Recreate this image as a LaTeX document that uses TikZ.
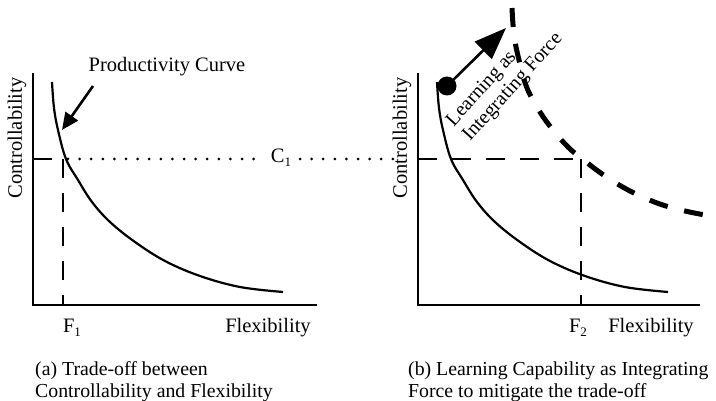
\documentclass[tikz,border=0pt]{standalone}
\usepackage{fontspec}
\setmainfont{Liberation Serif}
\usetikzlibrary{arrows.meta}
% small lowered index for F1, F2, C1
\newcommand{\lowidx}[1]{\raisebox{-0.45ex}{\fontsize{13}{13}\selectfont#1}}
\begin{document}
\begin{tikzpicture}[x=1pt,y=-1pt,
  lbl/.style={font=\fontsize{20.5}{22}\selectfont, inner sep=0pt},
  caption/.style={font=\fontsize{19.8}{22}\selectfont, inner sep=0pt, align=left, anchor=west},
  axis/.style={line width=2.6pt},
  curve/.style={line width=2.2pt},
  guide/.style={line width=2pt, dash pattern=on 19pt off 15pt},
  dots/.style={line width=3pt, line cap=round, dash pattern=on 0pt off 11.6pt},
  shifted/.style={line width=5pt, dash pattern=on 19pt off 17pt},
  pointer/.style={line width=2.6pt, -{Triangle[length=17pt,width=15pt]}},
  learn/.style={line width=2.6pt, -{Triangle[length=32pt,width=24pt]}},
]
\useasboundingbox (0,0) rectangle (716,401);

% ---------- panel (a) ----------
\coordinate (ytopA) at (33,73);
\coordinate (oA) at (33,305);
\coordinate (xendA) at (317,305);
\draw[axis] (ytopA) -- (oA) -- (xendA);

\draw[curve] plot[smooth, tension=0.6] coordinates {
  (52,82) (54,108) (58,130) (66,159) (78,180) (92,202) (110,222)
  (135,242) (165,261) (200,276) (240,287) (283,292)};

\coordinate (cA) at (33,159);
\coordinate (pA) at (63,159);
\coordinate (fA) at (63,305);
\draw[guide] (cA) -- (pA);
\draw[guide] (pA) -- (fA);

\node[lbl] (C1) at (281,158) {C\lowidx{1}};
\coordinate (dotsA1) at (68,159);
\coordinate (dotsA2) at (257,159);
\coordinate (dotsB1) at (300,159);
\coordinate (dotsB2) at (393,159);
\draw[dots] (dotsA1) -- (dotsA2);
\draw[dots] (dotsB1) -- (dotsB2);

\node[lbl] (pc) at (167,67) {Productivity Curve};
\coordinate (pcFrom) at (93,86);
\coordinate (pcTo) at (62,130);
\draw[pointer] (pcFrom) -- (pcTo);

\node[lbl, rotate=90] (ylA) at (17,138) {Controllability};
\node[lbl] (F1) at (72,328) {F\lowidx{1}};
\node[lbl] (xlA) at (268,328) {Flexibility};
\node[caption] (capA) at (35,382)
  {(a) Trade-off between\\Controllability and Flexibility};

% ---------- panel (b) ----------
\begin{scope}[shift={(385,0)}]
  \coordinate (ytopB) at (33,73);
  \coordinate (oB) at (33,305);
  \coordinate (xendB) at (315,305);
  \draw[axis] (ytopB) -- (oB) -- (xendB);
  \draw[curve] plot[smooth, tension=0.6] coordinates {
    (52,82) (54,108) (58,130) (66,159) (78,180) (92,202) (110,222)
    (135,242) (165,261) (200,276) (240,287) (283,292)};
\end{scope}

\coordinate (cB) at (418,159);
\coordinate (pB) at (581,159);
\coordinate (fB) at (581,305);
\draw[guide] (cB) -- (pB);
\draw[guide] (pB) -- (fB);

\draw[shifted] plot[smooth, tension=0.6] coordinates {
  (512,8) (514,35) (519,60) (527,88) (540,112) (553,130) (568,147)
  (581,158) (605,176) (630,191) (657,203) (685,211) (716,217)};

\node[circle, fill, inner sep=0pt, minimum size=19pt] (ball) at (447,86) {};
\coordinate (lrnTo) at (506,28);
\draw[learn] (ball.center) -- (lrnTo);
\node[lbl, rotate=48, align=left, font=\fontsize{20}{22}\selectfont] (lt) at (505,80)
  {Learning as\\Integrating Force};

\node[lbl, rotate=90] (ylB) at (402,138) {Controllability};
\node[lbl] (F2) at (578,328) {F\lowidx{2}};
\node[lbl] (xlB) at (651,328) {Flexibility};
\node[caption] (capB) at (408,382)
  {(b) Learning Capability as Integrating\\Force to mitigate the trade-off};
\end{tikzpicture}
\end{document}
